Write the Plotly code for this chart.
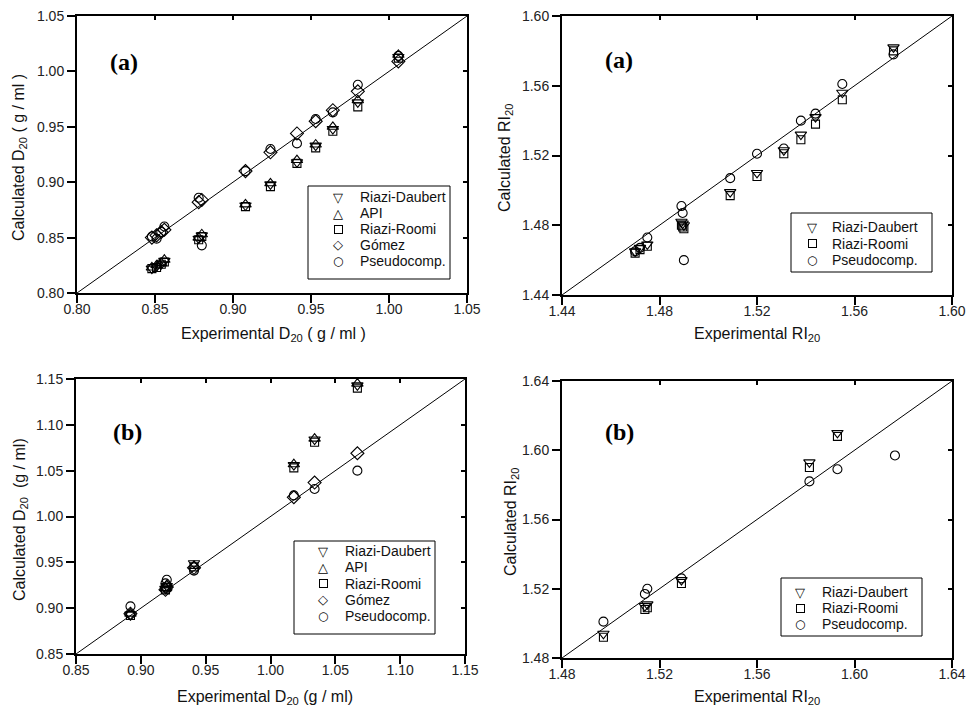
import plotly.graph_objects as go

# ---------------- data ----------------
series_names = ["Riazi-Daubert", "API", "Riazi-Roomi", "Gómez", "Pseudocomp."]

# Panel (a) left: density D20 (g/ml)
exp_d20_a = [0.848, 0.851, 0.854, 0.856, 0.878, 0.880, 0.908, 0.924, 0.941, 0.953, 0.964, 0.980, 1.006]
rd_d20_a  = [0.822, 0.824, 0.826, 0.829, 0.849, 0.852, 0.879, 0.898, 0.918, 0.933, 0.948, 0.972, 1.013]
api_d20_a = [0.823, 0.825, 0.827, 0.830, 0.850, 0.853, 0.880, 0.899, 0.920, 0.934, 0.950, 0.974, 1.015]
rr_d20_a  = [0.822, 0.823, 0.826, 0.828, 0.848, 0.851, 0.878, 0.896, 0.917, 0.931, 0.946, 0.968, 1.012]
g_d20_a   = [0.850, 0.852, 0.855, 0.857, 0.882, 0.884, 0.910, 0.927, 0.944, 0.955, 0.965, 0.982, 1.009]
p_d20_a   = [0.851, 0.849, 0.855, 0.860, 0.886, 0.843, 0.910, 0.930, 0.935, 0.957, 0.963, 0.988, 1.014]

# Panel (a) right: refractive index RI20
exp_ri_a = [1.470, 1.472, 1.475, 1.489, 1.4895, 1.490, 1.509, 1.520, 1.531, 1.538, 1.544, 1.555, 1.576]
rd_ri_a  = [1.465, 1.467, 1.469, 1.482, 1.481, 1.480, 1.499, 1.510, 1.523, 1.532, 1.542, 1.556, 1.582]
rr_ri_a  = [1.464, 1.466, 1.468, 1.480, 1.479, 1.478, 1.497, 1.508, 1.521, 1.529, 1.538, 1.552, 1.580]
p_ri_a   = [1.465, 1.467, 1.473, 1.491, 1.487, 1.460, 1.507, 1.521, 1.524, 1.540, 1.544, 1.561, 1.578]

# Panel (b) left: density D20 (g/ml)
exp_d20_b = [0.892, 0.919, 0.920, 0.941, 1.018, 1.034, 1.067]
rd_d20_b  = [0.893, 0.921, 0.924, 0.949, 1.056, 1.084, 1.143]
api_d20_b = [0.894, 0.922, 0.925, 0.946, 1.057, 1.085, 1.145]
rr_d20_b  = [0.892, 0.920, 0.923, 0.945, 1.053, 1.081, 1.140]
g_d20_b   = [0.894, 0.920, 0.923, 0.944, 1.021, 1.037, 1.069]
p_d20_b   = [0.902, 0.927, 0.931, 0.941, 1.023, 1.030, 1.050]

# Panel (b) right: refractive index RI20
exp_ri_b = [1.497, 1.514, 1.515, 1.529, 1.5815, 1.593, 1.6166]
rd_ri_b  = [1.494, 1.510, 1.511, 1.525, 1.593, 1.610, None]
rr_ri_b  = [1.492, 1.508, 1.509, 1.523, 1.590, 1.608, None]
p_ri_b   = [1.501, 1.517, 1.520, 1.526, 1.582, 1.589, 1.597]

# axis ranges / ticks
range_d20_a = [0.80, 1.05]
ticks_d20_a = [0.80, 0.85, 0.90, 0.95, 1.00, 1.05]
range_ri_a = [1.44, 1.60]
ticks_ri_a = [1.44, 1.48, 1.52, 1.56, 1.60]
range_d20_b = [0.85, 1.15]
ticks_d20_b = [0.85, 0.90, 0.95, 1.00, 1.05, 1.10, 1.15]
range_ri_b = [1.48, 1.64]
ticks_ri_b = [1.48, 1.52, 1.56, 1.60, 1.64]

# ---------------- styling ----------------
W, H = 966, 711
FONT = "Liberation Sans, Arial, sans-serif"
# marker symbol, marker size, legend glyph (None = drawn as small bordered box), glyph size
symbols = {
    "Riazi-Daubert": ("triangle-down-open", 10, "\u25BD", 13),
    "API": ("triangle-up-open", 10, "\u25B3", 13),
    "Riazi-Roomi": ("square-open", 8, None, 7),
    "Gómez": ("diamond-open", 10, "\u25C7", 13),
    "Pseudocomp.": ("circle-open", 9, "\u25CB", 12),
}

# pixel boxes of the four plot areas (left, right, top, bottom)
boxes = [
    (77, 467, 16, 293),
    (562, 952, 16, 295),
    (76, 465, 379, 654),
    (562, 952, 381, 658),
]


def dom(b):
    l, r, t, bt = b
    return [l / W, r / W], [1 - bt / H, 1 - t / H]


panels = [
    dict(x=exp_d20_a, ys={"Riazi-Daubert": rd_d20_a, "API": api_d20_a, "Riazi-Roomi": rr_d20_a,
                          "Gómez": g_d20_a, "Pseudocomp.": p_d20_a},
         rng=range_d20_a, ticks=ticks_d20_a, fmt=".2f", label="(a)"),
    dict(x=exp_ri_a, ys={"Riazi-Daubert": rd_ri_a, "Riazi-Roomi": rr_ri_a, "Pseudocomp.": p_ri_a},
         rng=range_ri_a, ticks=ticks_ri_a, fmt=".2f", label="(a)"),
    dict(x=exp_d20_b, ys={"Riazi-Daubert": rd_d20_b, "API": api_d20_b, "Riazi-Roomi": rr_d20_b,
                          "Gómez": g_d20_b, "Pseudocomp.": p_d20_b},
         rng=range_d20_b, ticks=ticks_d20_b, fmt=".2f", label="(b)"),
    dict(x=exp_ri_b, ys={"Riazi-Daubert": rd_ri_b, "Riazi-Roomi": rr_ri_b, "Pseudocomp.": p_ri_b},
         rng=range_ri_b, ticks=ticks_ri_b, fmt=".2f", label="(b)"),
]

# legend layout in px: box (l, r, t, b), marker centre x, text left x, first row y, row step
legend_geo = [
    dict(box=(308, 450, 186, 279), mx=338, tx=358, y0=197, dy=16),
    dict(box=(791, 932, 213, 272), mx=812, tx=830, y0=227, dy=16.6),
    dict(box=(294, 435, 541, 634), mx=323, tx=343, y0=551, dy=16.3),
    dict(box=(781, 922, 578, 636), mx=800, tx=820, y0=592, dy=16),
]
# panel label position (px, left, center-y)
label_pos = [(108, 62), (603, 60), (111, 432), (603, 432)]
# axis titles
ytitles = ["Calculated D<sub>20</sub> ( g / ml )", "Calculated RI<sub>20</sub>",
           "Calculated D<sub>20</sub>  (g / ml)", "Calculated RI<sub>20</sub>"]
xtitles = ["Experimental D<sub>20</sub> ( g / ml )", "Experimental RI<sub>20</sub>",
           "Experimental D<sub>20</sub> (g / ml)", "Experimental RI<sub>20</sub>"]
ytitle_pos = [(19, 158), (505, 158), (20, 520), (511, 522)]
xtitle_pos = [(273, 334), (757, 334), (265, 697), (757, 697)]

fig = go.Figure()
layout = dict(
    width=W, height=H, autosize=False,
    margin=dict(l=0, r=0, t=0, b=0, pad=0, autoexpand=False),
    paper_bgcolor="white", plot_bgcolor="white",
    font=dict(family=FONT, size=14, color="#111"),
    showlegend=False,
    annotations=[], shapes=[],
)

for i, p in enumerate(panels):
    n = i + 1
    sfx = "" if n == 1 else str(n)
    ov = str(n + 4)
    xd, yd = dom(boxes[i])

    # main axes
    axis_common = dict(range=p["rng"], tickvals=p["ticks"], tickformat=p["fmt"],
                       showgrid=False, zeroline=False, showline=True, mirror=True,
                       linecolor="black", linewidth=2, ticks="outside", ticklen=8,
                       tickwidth=2, tickcolor="black", automargin=False,
                       tickfont=dict(family=FONT, size=14, color="#222"))
    layout[f"xaxis{sfx}"] = dict(axis_common, domain=xd, anchor=f"y{sfx}", ticklabelstandoff=-6)
    layout[f"yaxis{sfx}"] = dict(axis_common, domain=yd, anchor=f"x{sfx}")
    # overlay axes for inward ticks on top/right
    ov_common = dict(range=p["rng"], tickvals=p["ticks"], showgrid=False, zeroline=False,
                     showline=False, ticks="inside", ticklen=4, tickwidth=1.5,
                     tickcolor="black", showticklabels=False, automargin=False)
    layout[f"xaxis{ov}"] = dict(ov_common, domain=xd, anchor=f"y{ov}", overlaying=f"x{sfx}", side="top")
    layout[f"yaxis{ov}"] = dict(ov_common, domain=yd, anchor=f"x{ov}", overlaying=f"y{sfx}", side="right")

    # data traces
    for name in series_names:
        if name not in p["ys"]:
            continue
        sym, sz, _, _ = symbols[name]
        fig.add_trace(go.Scatter(
            x=p["x"], y=p["ys"][name], mode="markers", name=name,
            marker=dict(symbol=sym, size=sz, color="black", line=dict(color="black", width=1.1)),
            xaxis=f"x{sfx}", yaxis=f"y{sfx}",
        ))
    # y = x line
    fig.add_trace(go.Scatter(
        x=p["rng"], y=p["rng"], mode="lines", line=dict(color="black", width=1),
        xaxis=f"x{ov}", yaxis=f"y{ov}", hoverinfo="skip",
    ))

    # legend (box + symbol glyphs + names)
    g = legend_geo[i]
    bl, br, bt, bb = g["box"]
    layout["shapes"].append(dict(type="rect", xref="paper", yref="paper",
                                 x0=bl / W, x1=br / W, y0=1 - bb / H, y1=1 - bt / H,
                                 line=dict(color="black", width=1), fillcolor="white", layer="above"))
    names_here = [nm for nm in series_names if nm in p["ys"]]
    for k, nm in enumerate(names_here):
        yy = g["y0"] + k * g["dy"]
        _, _, glyph, gsz = symbols[nm]
        if glyph is None:
            layout["annotations"].append(dict(
                text=" ", x=g["mx"] / W, y=1 - yy / H, xref="paper", yref="paper",
                xanchor="center", yanchor="middle", showarrow=False,
                width=gsz, height=gsz, borderpad=0, bordercolor="black", borderwidth=1,
                font=dict(family=FONT, size=4, color="black")))
        else:
            layout["annotations"].append(dict(
                text=glyph, x=g["mx"] / W, y=1 - yy / H, xref="paper", yref="paper",
                xanchor="center", yanchor="middle", showarrow=False,
                font=dict(family="DejaVu Sans", size=gsz, color="black")))
        layout["annotations"].append(dict(
            text=nm, x=g["tx"] / W, y=1 - yy / H, xref="paper", yref="paper",
            xanchor="left", yanchor="middle", showarrow=False,
            font=dict(family=FONT, size=14, color="#111")))

    # panel label
    px, py = label_pos[i]
    layout["annotations"].append(dict(
        text=f"<b>{p['label']}</b>", x=px / W, y=1 - py / H, xref="paper", yref="paper",
        xanchor="left", yanchor="middle", showarrow=False,
        font=dict(family="Liberation Serif, Times New Roman, serif", size=24, color="black")))
    # axis titles
    tx, ty = ytitle_pos[i]
    layout["annotations"].append(dict(
        text=ytitles[i], x=tx / W, y=1 - ty / H, xref="paper", yref="paper",
        xanchor="center", yanchor="middle", showarrow=False, textangle=-90,
        font=dict(family=FONT, size=16, color="#111")))
    tx, ty = xtitle_pos[i]
    layout["annotations"].append(dict(
        text=xtitles[i], x=tx / W, y=1 - ty / H, xref="paper", yref="paper",
        xanchor="center", yanchor="middle", showarrow=False,
        font=dict(family=FONT, size=16, color="#111")))

fig.update_layout(**layout)
fig.write_html("out.html")
